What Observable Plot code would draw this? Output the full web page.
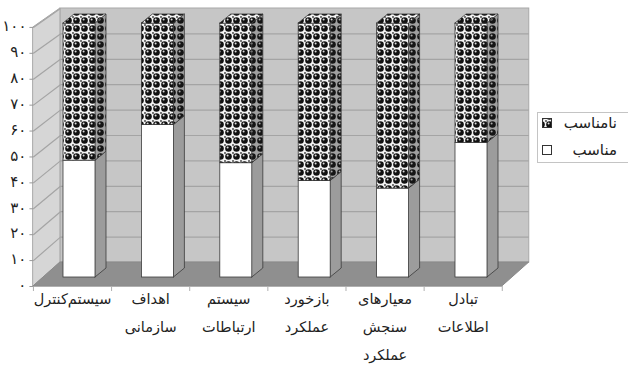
<!DOCTYPE html>
<html><head><meta charset="utf-8">
<script src="https://cdn.jsdelivr.net/npm/d3@7"></script>
<script src="https://cdn.jsdelivr.net/npm/@observablehq/plot@0.6"></script>
<style>
body{margin:0;background:#fff;}
#wrap{position:relative;width:628px;height:367px;overflow:hidden;font-family:"DejaVu Sans",sans-serif;}
#legend{position:absolute;left:537px;top:112px;}
</style></head><body><div id="wrap"></div>
<script>
const categories = ["سیستم\u200cکنترل", "اهداف\nسازمانی", "سیستم\nارتباطات", "بازخورد\nعملکرد", "معیارهای\nسنجش\nعملکرد", "تبادل\nاطلاعات"];
const suitable = [46, 60, 45, 38, 35, 53];      // مناسب
const unsuitable = [54, 40, 55, 62, 65, 47];    // نامناسب
const seriesNames = ["نامناسب", "مناسب"];
const yTicks = [0, 10, 20, 30, 40, 50, 60, 70, 80, 90, 100];
const yTickLabels = ["۰", "۱۰", "۲۰", "۳۰", "۴۰", "۵۰", "۶۰", "۷۰", "۸۰", "۹۰", "۱۰۰"];

const W = 628, H = 367, ML = 79, MR = 157, MT = 23, MB = 90;
const kx = (W - ML - MR) / 5, ky = (H - MT - MB) / 100;
const ux = p => p / kx, uy = p => -p / ky;       // pixel offsets -> data units
const FR = {dx: -10, dy: 9}, BK = {dx: 17, dy: -15}, SD = {dx: 11, dy: -9};
const FRONT_SCALE = 1.02;                          // slight perspective enlargement of the front plane
const XL = -0.46, XR = 5.52, hw = ux(16);
const fy = d => d * FRONT_SCALE + uy(FR.dy);

const rows = categories.map((c, i) => ({i, c, s: suitable[i], u: unsuitable[i]}));
const leftWall = [
  {x: XL + ux(FR.dx), y1: fy(0), y2: fy(100)},
  {x: XL + ux(BK.dx), y1: uy(BK.dy), y2: 100 + uy(BK.dy)}
];
const floor = [
  {y: fy(0), x1: XL + ux(FR.dx), x2: XR + ux(FR.dx)},
  {y: uy(BK.dy), x1: XL + ux(BK.dx), x2: XR + ux(BK.dx)}
];
const sideW = rows.flatMap(r => [
  {z: r.i, x: r.i + hw, y1: 0, y2: r.s},
  {z: r.i, x: r.i + hw + ux(SD.dx), y1: uy(SD.dy), y2: r.s + uy(SD.dy)}]);
const sideP = rows.flatMap(r => [
  {z: r.i, x: r.i + hw, y1: r.s, y2: r.s + r.u},
  {z: r.i, x: r.i + hw + ux(SD.dx), y1: r.s + uy(SD.dy), y2: r.s + r.u + uy(SD.dy)}]);
const tops = rows.flatMap(r => [
  {z: r.i, y: r.s + r.u, x1: r.i - hw, x2: r.i + hw},
  {z: r.i, y: r.s + r.u + uy(SD.dy), x1: r.i - hw + ux(SD.dx), x2: r.i + hw + ux(SD.dx)}]);
const bounds = d3.range(7).map(k => XL + k * (XR - XL) / 6);
const mids = rows.map(r => ({c: r.c, x: XL + (r.i + 0.5) * (XR - XL) / 6}));

const chart = Plot.plot({
  width: W, height: H, marginLeft: ML, marginRight: MR, marginTop: MT, marginBottom: MB,
  x: {domain: [0, 5], axis: null},
  y: {domain: [0, 100], axis: null},
  style: {background: "transparent", fontFamily: "DejaVu Sans, sans-serif", overflow: "visible"},
  marks: [
    // back wall
    Plot.rect([0], {x1: XL, x2: XR, y1: 0, y2: 100, dx: BK.dx, dy: BK.dy, fill: "#c6c6c6", stroke: "#a8a8a8"}),
    Plot.ruleY(yTicks.slice(1, -1), {x1: XL, x2: XR, dx: BK.dx, dy: BK.dy, stroke: "#a4a4a4", strokeWidth: 1.2}),
    // left wall
    Plot.areaY(leftWall, {x: "x", y1: "y1", y2: "y2", fill: "#d6d6d6", stroke: "#a8a8a8"}),
    Plot.link(yTicks.slice(1), {x1: XL + ux(FR.dx), x2: XL + ux(BK.dx), y1: fy, y2: d => d + uy(BK.dy), stroke: "#a4a4a4", strokeWidth: 1.2}),
    // floor
    Plot.areaX(floor, {y: "y", x1: "x1", x2: "x2", fill: "#8f8f8f", stroke: "#8a8a8a"}),
    // bars
    Plot.areaY(sideW, {x: "x", y1: "y1", y2: "y2", z: "z", fill: "#9c9c9c", stroke: "#3a3a3a", strokeWidth: 0.8}),
    Plot.areaY(sideP, {x: "x", y1: "y1", y2: "y2", z: "z", fill: "url(#sphD)", stroke: "#3a3a3a", strokeWidth: 0.8}),
    Plot.rect(rows, {x1: r => r.i - hw, x2: r => r.i + hw, y1: 0, y2: "s", fill: "#fff", stroke: "#3a3a3a", strokeWidth: 0.8}),
    Plot.rect(rows, {x1: r => r.i - hw, x2: r => r.i + hw, y1: "s", y2: r => r.s + r.u, fill: "url(#sph)", stroke: "#3a3a3a", strokeWidth: 0.8}),
    Plot.areaX(tops, {y: "y", x1: "x1", x2: "x2", z: "z", fill: "url(#sph)", stroke: "#3a3a3a", strokeWidth: 0.8}),
    // x axis
    Plot.ruleY([0], {x1: XL, x2: XR, dx: FR.dx, dy: FR.dy, stroke: "#b0b0b0"}),
    Plot.ruleX(bounds, {y1: uy(FR.dy), y2: uy(FR.dy + 5), dx: FR.dx, stroke: "#b0b0b0"}),
    Plot.text(mids, {x: "x", y: uy(FR.dy), text: "c", dx: FR.dx, dy: -2, lineAnchor: "top", lineHeight: 1.93, fontSize: 14.5, fill: "#222"}),
    // y axis
    Plot.link(yTicks, {x1: XL + ux(FR.dx - 4), x2: XL + ux(FR.dx), y1: fy, y2: fy, stroke: "#999"}),
    Plot.text(yTicks, {x: XL, y: fy, text: (d, i) => yTickLabels[i], dx: FR.dx - 7, dy: -1, textAnchor: "end", fontSize: 15, fill: "#222"})
  ]
});

const defs = `<defs>
<pattern id="sph" width="8" height="8" patternUnits="userSpaceOnUse">
<rect width="8" height="8" fill="#f4f4f4"/><rect x="0" y="0" width="2" height="2" fill="#777"/>
<circle cx="4.5" cy="4.5" r="3.3" fill="#111"/><circle cx="3.6" cy="3.5" r="1" fill="#ddd"/>
</pattern>
<pattern id="sphD" width="8" height="8" patternUnits="userSpaceOnUse">
<rect width="8" height="8" fill="#a0a0a0"/><circle cx="4.5" cy="4.5" r="3.3" fill="#151515"/><circle cx="3.6" cy="3.5" r="1" fill="#aaa"/>
</pattern></defs>`;
chart.insertAdjacentHTML("afterbegin", defs);
const wrap = document.getElementById("wrap");
wrap.appendChild(chart);

// legend
const leg = d3.create("svg").attr("width", 95).attr("height", 52);
leg.append("rect").attr("x", 0.5).attr("y", 0.5).attr("width", 100).attr("height", 50).attr("fill", "#fff").attr("stroke", "#c4c4c4");
seriesNames.forEach((n, i) => {
  const cy = 11 + i * 27;
  leg.append("rect").attr("x", 5.5).attr("y", cy - 4.5).attr("width", 9).attr("height", 9)
    .attr("fill", i === 0 ? "url(#sph)" : "#fff").attr("stroke", "#333");
  leg.append("text").attr("x", 80).attr("y", cy).attr("dy", "0.35em").attr("text-anchor", "end")
    .attr("font-size", 15).attr("font-family", "DejaVu Sans, sans-serif").attr("fill", "#222").text(n);
});
const ld = document.createElement("div");
ld.id = "legend";
ld.appendChild(leg.node());
wrap.appendChild(ld);
</script></body></html>
